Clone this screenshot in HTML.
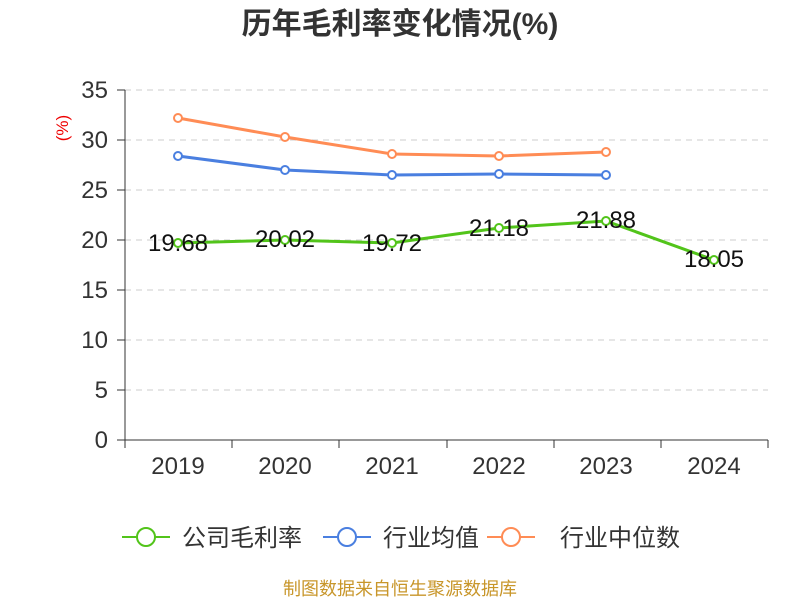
<!DOCTYPE html>
<html><head><meta charset="utf-8"><style>
body{margin:0;background:#fff;}
svg text{font-family:"Liberation Sans","Noto Sans CJK SC",sans-serif;}
</style></head><body>
<svg width="800" height="600" viewBox="0 0 800 600" xmlns="http://www.w3.org/2000/svg">
<text x="400" y="34" text-anchor="middle" font-size="30" font-weight="bold" fill="#333">历年毛利率变化情况(%)</text>
<text x="68" y="128" text-anchor="middle" font-size="17" fill="#e00" transform="rotate(-90 68 128)">(%)</text>
<g stroke="#ccc" stroke-dasharray="6,5" stroke-width="1">
<line x1="125" y1="90" x2="768" y2="90"/><line x1="125" y1="140" x2="768" y2="140"/>
<line x1="125" y1="190" x2="768" y2="190"/><line x1="125" y1="240" x2="768" y2="240"/>
<line x1="125" y1="290" x2="768" y2="290"/><line x1="125" y1="340" x2="768" y2="340"/>
<line x1="125" y1="390" x2="768" y2="390"/>
</g>
<g stroke="#333" stroke-width="1">
<line x1="125" y1="90" x2="125" y2="440"/><line x1="125" y1="440" x2="768" y2="440"/>
<line x1="117" y1="90" x2="125" y2="90"/><line x1="117" y1="140" x2="125" y2="140"/><line x1="117" y1="190" x2="125" y2="190"/><line x1="117" y1="240" x2="125" y2="240"/><line x1="117" y1="290" x2="125" y2="290"/><line x1="117" y1="340" x2="125" y2="340"/><line x1="117" y1="390" x2="125" y2="390"/><line x1="117" y1="440" x2="125" y2="440"/>
<line x1="125" y1="440" x2="125" y2="448"/><line x1="232" y1="440" x2="232" y2="448"/><line x1="339" y1="440" x2="339" y2="448"/><line x1="447" y1="440" x2="447" y2="448"/><line x1="554" y1="440" x2="554" y2="448"/><line x1="661" y1="440" x2="661" y2="448"/><line x1="768" y1="440" x2="768" y2="448"/>
</g>
<g font-size="24" fill="#333" text-anchor="end">
<text x="108" y="98">35</text><text x="108" y="148">30</text><text x="108" y="198">25</text><text x="108" y="248">20</text><text x="108" y="298">15</text><text x="108" y="348">10</text><text x="108" y="398">5</text><text x="108" y="448">0</text>
</g>
<g font-size="24" fill="#333" text-anchor="middle">
<text x="178" y="474">2019</text><text x="285" y="474">2020</text><text x="392" y="474">2021</text><text x="499" y="474">2022</text><text x="606" y="474">2023</text><text x="714" y="474">2024</text>
</g>
<polyline fill="none" stroke="#ff8c55" stroke-width="3" points="178,118 285,137 392,154 499,156 606,152"/>
<polyline fill="none" stroke="#4a7fe0" stroke-width="3" points="178,156 285,170 392,175 499,174 606,175"/>
<polyline fill="none" stroke="#52c41a" stroke-width="3" points="178,243 285,240 392,243 499,228 606,221 714,260"/>
<g fill="#fff" stroke-width="2">
<g stroke="#ff8c55"><circle cx="178" cy="118" r="4"/><circle cx="285" cy="137" r="4"/><circle cx="392" cy="154" r="4"/><circle cx="499" cy="156" r="4"/><circle cx="606" cy="152" r="4"/></g>
<g stroke="#4a7fe0"><circle cx="178" cy="156" r="4"/><circle cx="285" cy="170" r="4"/><circle cx="392" cy="175" r="4"/><circle cx="499" cy="174" r="4"/><circle cx="606" cy="175" r="4"/></g>
<g stroke="#52c41a"><circle cx="178" cy="243" r="4"/><circle cx="285" cy="240" r="4"/><circle cx="392" cy="243" r="4"/><circle cx="499" cy="228" r="4"/><circle cx="606" cy="221" r="4"/><circle cx="714" cy="260" r="4"/></g>
</g>
<g font-size="24" fill="#111" text-anchor="middle">
<text x="178" y="251">19.68</text><text x="285" y="247">20.02</text><text x="392" y="251">19.72</text><text x="499" y="236">21.18</text><text x="606" y="228">21.88</text><text x="714" y="267">18.05</text>
</g>
<g stroke-width="2" fill="#fff">
<line x1="122" y1="537" x2="170" y2="537" stroke="#52c41a"/><circle cx="146" cy="537" r="9" stroke="#52c41a"/>
<line x1="323" y1="537" x2="371" y2="537" stroke="#4a7fe0"/><circle cx="347" cy="537" r="9" stroke="#4a7fe0"/>
<line x1="487" y1="537" x2="535" y2="537" stroke="#ff8c55"/><circle cx="511" cy="537" r="9" stroke="#ff8c55"/>
</g>
<g font-size="24" fill="#333">
<text x="182" y="546">公司毛利率</text><text x="383" y="546">行业均值</text><text x="560" y="546">行业中位数</text>
</g>
<text x="400" y="595" text-anchor="middle" font-size="18" fill="#c8962a">制图数据来自恒生聚源数据库</text>
</svg>
</body></html>
